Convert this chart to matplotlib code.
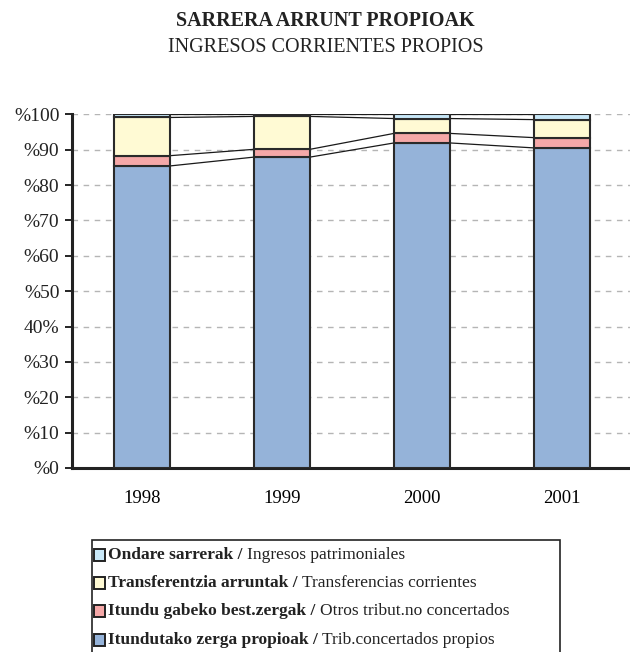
import matplotlib.pyplot as plt
from matplotlib.patches import Rectangle
import numpy as np

plt.rcParams['font.family'] = 'Liberation Serif'

years = ['1998', '1999', '2000', '2001']
# percentages of total, bottom to top
trib_concertados = [85.4, 87.9, 91.9, 90.5]
otros_tributos = [2.9, 2.2, 2.7, 2.9]
transferencias = [10.8, 9.3, 4.2, 5.1]
patrimoniales = [0.9, 0.6, 1.2, 1.5]

yticks = [0, 10, 20, 30, 40, 50, 60, 70, 80, 90, 100]
ytick_labels = ['%0', '%10', '%20', '%30', '40%', '%50', '%60', '%70', '%80', '%90', '%100']

series = [trib_concertados, otros_tributos, transferencias, patrimoniales]
colors = ['#95B3D9', '#F5A8A8', '#FFFAD4', '#C8E8F8']
eus = ['Itundutako zerga propioak', 'Itundu gabeko best.zergak',
       'Transferentzia arruntak', 'Ondare sarrerak']
esp = ['Trib.concertados propios', 'Otros tribut.no concertados',
       'Transferencias corrientes', 'Ingresos patrimoniales']

fig = plt.figure(figsize=(6.3, 6.52), dpi=100)
ax = fig.add_axes([72/630, 1 - 468/652, 560/630, (468 - 114.3)/652])

x = np.arange(len(years))
w = 0.4
bottom = np.zeros(len(years))
tops = []
for vals, c in zip(series, colors):
    ax.bar(x, vals, w, bottom=bottom, color=c, edgecolor='#2a2a2a', linewidth=1.5, zorder=3)
    bottom = bottom + np.array(vals)
    tops.append(bottom.copy())

# series lines between bars
for t in tops[:-1]:
    for i in range(len(years) - 1):
        ax.plot([x[i] + w/2, x[i+1] - w/2], [t[i], t[i+1]], color='#1a1a1a', lw=0.9, zorder=2)
ax.plot([x[0] + w/2, x[-1] - w/2], [100, 100], color='#1a1a1a', lw=0.9, zorder=2)

ax.set_xlim(-0.5, 3.5)
ax.set_ylim(0, 100)
ax.set_xticks(x)
ax.set_xticklabels(years, fontsize=13.5)
ax.set_yticks(yticks)
ax.set_yticklabels(ytick_labels, fontsize=14, color='#222222')
ax.tick_params(axis='x', length=0, pad=16)
ax.tick_params(axis='y', length=5, width=1.2, pad=4)
ax.yaxis.grid(True, color='#b5b5b5', linestyle=(0, (4, 4)), lw=1, zorder=0)
for s in ['top', 'right']:
    ax.spines[s].set_visible(False)
for s in ['left', 'bottom']:
    ax.spines[s].set_linewidth(2.2)
    ax.spines[s].set_color('#222222')

fig.text(0.517, 1 - 21/652, 'SARRERA ARRUNT PROPIOAK', ha='center', va='center',
         fontsize=14.5, fontweight='bold', color='#222222')
fig.text(0.517, 1 - 47/652, 'INGRESOS CORRIENTES PROPIOS', ha='center', va='center',
         fontsize=14.5, color='#222222')

# legend box
fig.patches.append(Rectangle((92/630, -0.02), (560 - 92)/630, (652 - 540)/652 + 0.02,
                             transform=fig.transFigure, fill=False, edgecolor='#222222', lw=1.2))
renderer = fig.canvas.get_renderer()
ys = [555, 583, 611, 640]
for k, yy in enumerate(ys):
    idx = 3 - k
    fig.patches.append(Rectangle((94/630, 1 - (yy + 6)/652), 11/630, 12/652,
                                 transform=fig.transFigure, facecolor=colors[idx],
                                 edgecolor='#222222', lw=1.4))
    tb = fig.text(108/630, 1 - yy/652, eus[idx] + ' / ', ha='left', va='center',
                  fontsize=12.5, fontweight='bold', color='#222222')
    ext = tb.get_window_extent(renderer)
    fig.text(ext.x1 / fig.bbox.width, 1 - yy/652, esp[idx], ha='left', va='center',
             fontsize=12.5, color='#222222')

fig.savefig('out.png', dpi=100)
